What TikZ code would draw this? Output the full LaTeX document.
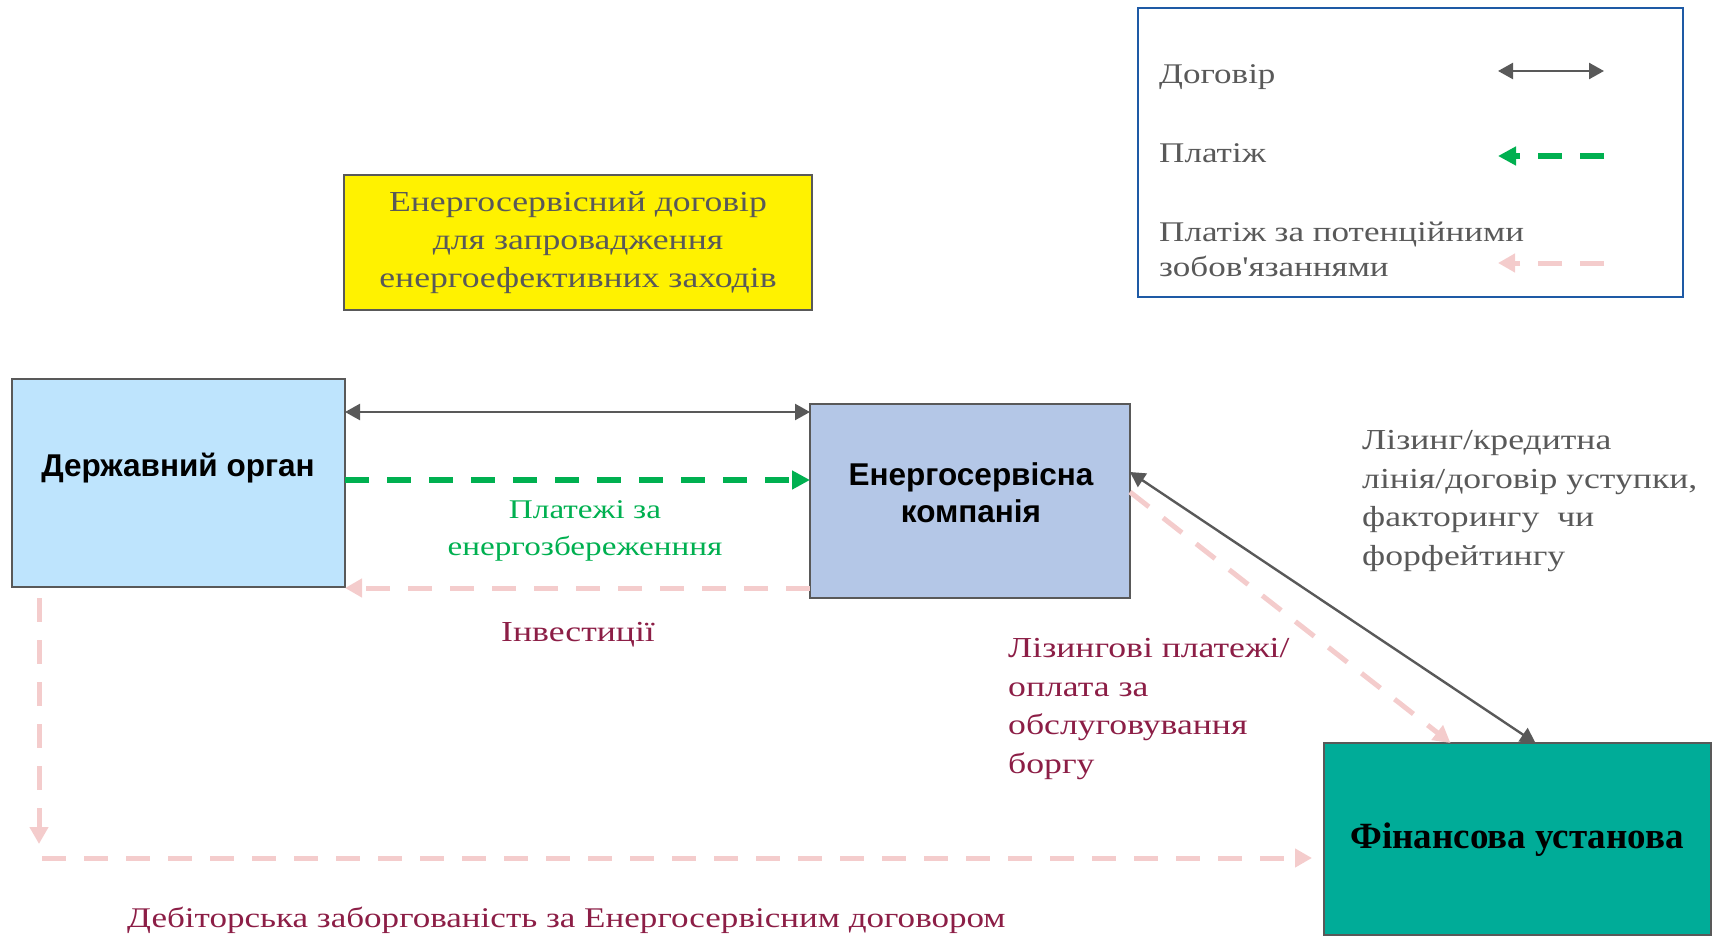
\documentclass[tikz,border=0pt]{standalone}
\usepackage{fontspec}
\setmainfont{Liberation Serif}
\newfontfamily\gfont[FakeStretch=1.23,Ligatures=TeXOff]{Liberation Serif}
\newfontfamily\afont{Liberation Sans}
\usetikzlibrary{arrows.meta}
\definecolor{tgray}{RGB}{89,89,89}
\definecolor{maroon}{RGB}{140,30,70}
\definecolor{pgreen}{RGB}{0,176,80}
\definecolor{ppink}{RGB}{244,204,204}
\definecolor{govfill}{RGB}{190,228,253}
\definecolor{escofill}{RGB}{180,199,231}
\definecolor{finfill}{RGB}{0,172,152}
\definecolor{legblue}{RGB}{30,90,165}
\begin{document}
\begin{tikzpicture}[x=1pt,y=-1pt,
  box/.style={draw=tgray, line width=2.5pt, inner sep=0pt, outer sep=0pt},
  ttl/.style={font=\afont\bfseries\fontsize{31.5}{37}\selectfont, align=center, inner sep=0pt},
  lbl/.style={font=\gfont\fontsize{29}{38.5}\selectfont, inner sep=0pt},
  contract/.style={draw=tgray, line width=2.4pt, {Triangle[length=15pt,width=16pt]}-{Triangle[length=15pt,width=16pt]}},
  pay/.style={draw=pgreen, line width=5.5pt, dash pattern=on 24pt off 18pt, -{Triangle[length=18pt,width=18pt]}},
  cond/.style={draw=ppink, line width=5pt, dash pattern=on 24pt off 18pt, -{Triangle[length=17pt,width=18pt]}},
]
\useasboundingbox (0,0) rectangle (1714,939);
% legend
\node[draw=legblue, line width=2pt, minimum width=545pt, minimum height=289pt, inner sep=0pt] (leg) at (1410.5,152.5) {};
\node[lbl, text=tgray, anchor=west, font=\gfont\fontsize{28.5}{35}\selectfont] (l1) at (1159,77) {Договір};
\node[lbl, text=tgray, anchor=west, font=\gfont\fontsize{28.5}{35}\selectfont] (l2) at (1159,153) {Платіж};
\node[lbl, text=tgray, anchor=west, align=left, font=\gfont\fontsize{28.5}{35}\selectfont] (l3) at (1159,249) {Платіж за потенційними\\зобов'язаннями};
\coordinate (la1) at (1498,71); \coordinate (lb1) at (1604,71);
\coordinate (la2) at (1498,156); \coordinate (lb2) at (1604,156);
\coordinate (la3) at (1498,263); \coordinate (lb3) at (1604,263);
\draw[contract] (la1) -- (lb1);
\draw[pay] (lb2) -- (la2);
\draw[cond] (lb3) -- (la3);
% yellow box
\node[box, line width=2pt, fill=yellow, minimum width=468pt, minimum height=135pt] (esc) at (578,242.5) {};
\node[lbl, text=tgray, align=center, font=\gfont\fontsize{29}{38}\selectfont] (esct) at (578,243) {Енергосервісний договір\\для запровадження\\енергоефективних заходів};
% main boxes
\node[box, fill=govfill, minimum width=333pt, minimum height=208pt] (gov) at (178.5,483) {};
\node[ttl] (govt) at (178,468) {Державний орган};
\node[box, fill=escofill, minimum width=320pt, minimum height=194pt] (esco) at (970,501) {};
\node[ttl] (escot) at (971,493) {Енергосервісна\\компанія};
\node[box, fill=finfill, minimum width=387pt, minimum height=192pt] (fin) at (1517.5,839) {};
\node[inner sep=0pt, font=\bfseries\fontsize{37}{42}\selectfont] (fint) at (1517,840) {Фінансова установа};
% connectors
\draw[contract] ([yshift=-33pt]gov.north east) -- ([yshift=-8pt]esco.north west);
\draw[pay] ([yshift=3pt]gov.east) -- ([yshift=21pt]esco.west);
\draw[cond] ([yshift=10pt]esco.south west) -- ([yshift=-1pt]gov.south east);
\draw[contract] ([yshift=29pt]esco.east) -- ([xshift=18pt]fin.north);
\draw[cond] ([yshift=9pt]esco.east) -- ([xshift=-67pt]fin.north);
\coordinate (vtop) at (39,598);
\coordinate (vbot) at (39,844);
\coordinate (hleft) at (42,858);
\draw[cond] (vtop) -- (vbot);
\draw[cond] (hleft) -- ([xshift=-12pt,yshift=-19pt]fin.west);
% labels
\node[lbl, text=pgreen, align=center, font=\gfont\fontsize{27}{37}\selectfont] (paylbl) at (585,531) {Платежі за\\енергозбереженння};
\node[lbl, text=maroon] (invlbl) at (578,635) {Інвестиції};
\node[lbl, text=tgray, anchor=west, align=left] (leaselbl) at (1362,501) {Лізинг/кредитна\\лінія/договір уступки,\\факторингу\ \ чи\\форфейтингу};
\node[lbl, text=maroon, anchor=west, align=left] (debtlbl) at (1008,709) {Лізингові платежі/\\оплата за\\обслуговування\\боргу};
\node[lbl, text=maroon, anchor=west, font=\gfont\fontsize{28.5}{38}\selectfont] (reclbl) at (127,920) {Дебіторська заборгованість за Енергосервісним договором};
\end{tikzpicture}
\end{document}
